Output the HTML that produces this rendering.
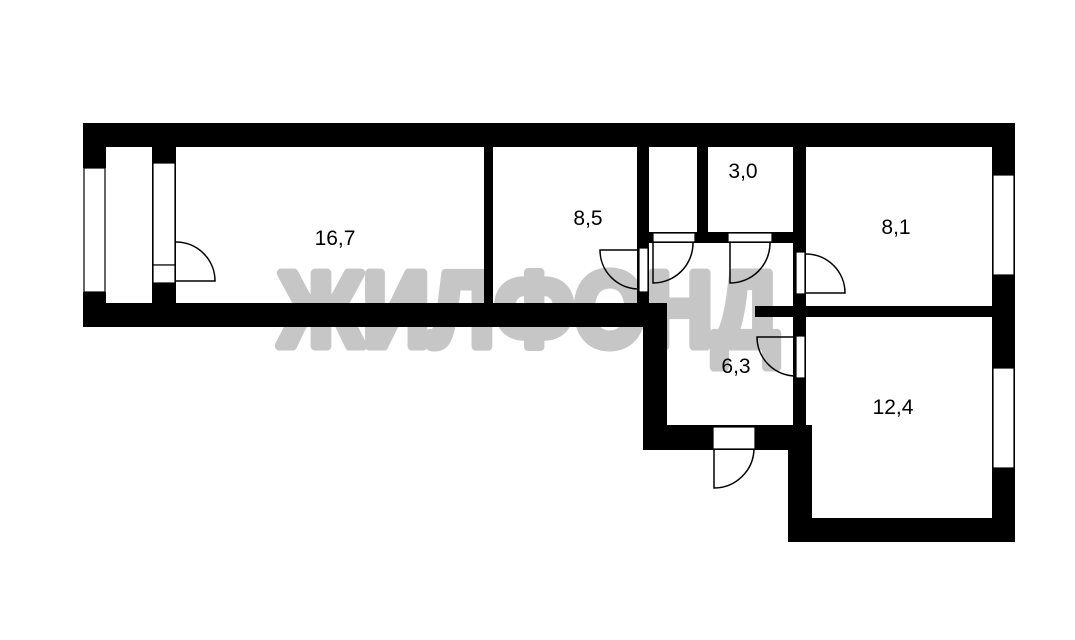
<!DOCTYPE html>
<html><head><meta charset="utf-8"><style>
html,body{margin:0;padding:0;background:#fff;}
svg{display:block;}
</style></head><body>
<svg width="1075" height="640" viewBox="0 0 1075 640" xmlns="http://www.w3.org/2000/svg">
<rect width="1075" height="640" fill="#fff"/>
<text x="279" y="346" font-family="Liberation Sans, DejaVu Sans, sans-serif" font-weight="bold" font-size="106" fill="#c6c6c6" stroke="#c6c6c6" stroke-width="9" stroke-linejoin="round" textLength="500" lengthAdjust="spacingAndGlyphs">ЖИЛФОНД</text>
<g fill="#000">
<rect x="83" y="123" width="932" height="24"/>
<rect x="83" y="123" width="23" height="45"/>
<rect x="83" y="292" width="23" height="35"/>
<rect x="152" y="147" width="24" height="156"/>
<rect x="83" y="303" width="584" height="24"/>
<rect x="484" y="147" width="9" height="156"/>
<rect x="637" y="147" width="12" height="156"/>
<rect x="697" y="147" width="11" height="94"/>
<rect x="649" y="232" width="146" height="11"/>
<rect x="793" y="147" width="13" height="303"/>
<rect x="755" y="306" width="237" height="11"/>
<rect x="643" y="303" width="24" height="147"/>
<rect x="643" y="425" width="169" height="25"/>
<rect x="788" y="425" width="24" height="117"/>
<rect x="788" y="518" width="227" height="24"/>
<rect x="992" y="123" width="23" height="419"/>
</g>
<g fill="#fff" stroke="#000" stroke-width="1.2">
<rect x="84" y="168" width="21" height="124"/>
<rect x="153" y="163" width="22" height="102"/>
<rect x="153" y="265" width="22" height="18"/>
<rect x="993" y="175" width="21" height="100"/>
<rect x="993" y="368" width="21" height="100"/>
<rect x="639" y="248" width="9" height="44"/>
<rect x="653" y="233" width="42" height="9"/>
<rect x="728" y="233" width="44" height="9"/>
<rect x="796" y="252" width="9" height="42"/>
<rect x="796" y="336" width="9" height="42"/>
<rect x="713" y="427" width="42" height="22"/>
</g>
<g fill="none" stroke="#000" stroke-width="1.5">
<path d="M176 242 A39 39 0 0 1 215 281 L176 281"/>
<path d="M639 250 L600 250 A39 39 0 0 0 639 289"/>
<path d="M653 243 L653 283 A40 40 0 0 0 693 243"/>
<path d="M730 243 L730 283 A40 40 0 0 0 770 243"/>
<path d="M806 254 A39 39 0 0 1 845 293 L806 293"/>
<path d="M796 337 L757 337 A39 39 0 0 0 796 376"/>
<path d="M714 449 L714 488 A40 40 0 0 0 754 449"/>
</g>
<g font-family="Liberation Sans, DejaVu Sans, sans-serif" font-size="21" fill="#000" text-anchor="middle">
<text x="335" y="245">16,7</text>
<text x="588" y="225">8,5</text>
<text x="743" y="178">3,0</text>
<text x="896" y="234">8,1</text>
<text x="736" y="373">6,3</text>
<text x="893" y="414">12,4</text>
</g>
</svg>
</body></html>
